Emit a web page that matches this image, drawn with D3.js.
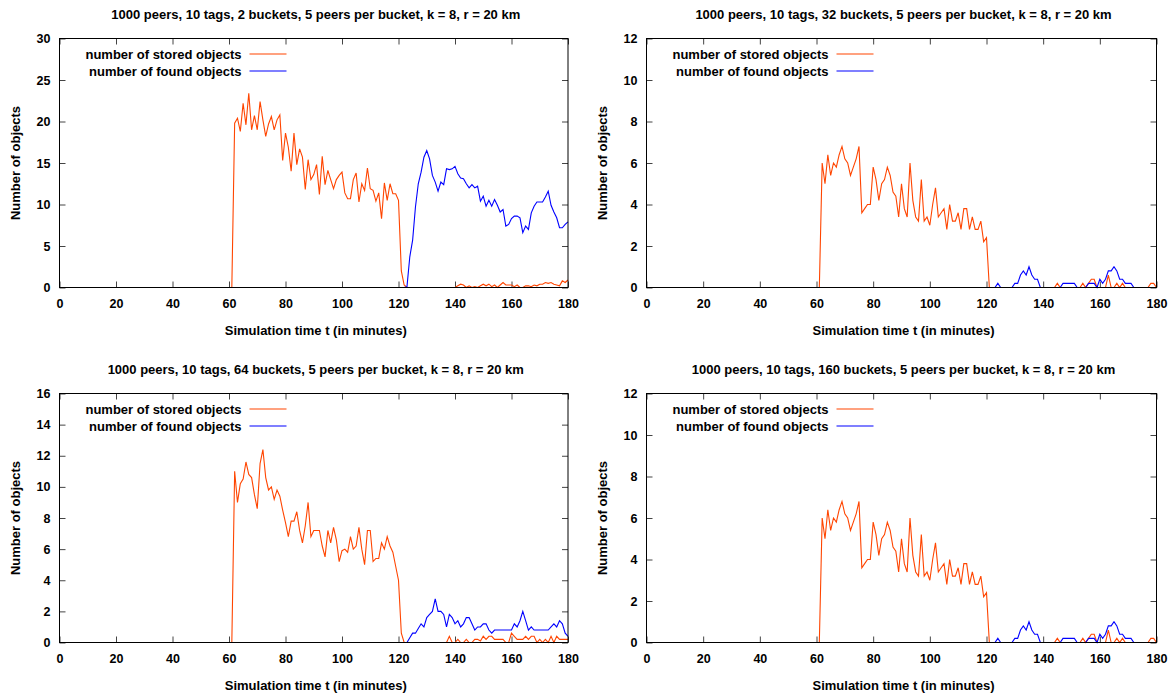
<!DOCTYPE html>
<html><head><meta charset="utf-8">
<script src="https://cdn.jsdelivr.net/npm/d3@7"></script>
<style>
body{margin:0;background:#fff}
svg{display:block}
text{font-family:"Liberation Sans",Arial,Helvetica,sans-serif;font-weight:bold;fill:#000}
</style>
</head><body>
<svg id="chart" width="1175" height="696"></svg>
<script>
// ---------------- data ----------------
const titles = [
  "1000 peers, 10 tags, 2 buckets, 5 peers per bucket, k = 8, r = 20 km",
  "1000 peers, 10 tags, 32 buckets, 5 peers per bucket, k = 8, r = 20 km",
  "1000 peers, 10 tags, 64 buckets, 5 peers per bucket, k = 8, r = 20 km",
  "1000 peers, 10 tags, 160 buckets, 5 peers per bucket, k = 8, r = 20 km"
];
const seriesNames = ["number of stored objects", "number of found objects"];
const xTicks = [0, 20, 40, 60, 80, 100, 120, 140, 160, 180];
const yTicks2 = [0, 5, 10, 15, 20, 25, 30];
const yTicks32 = [0, 2, 4, 6, 8, 10, 12];
const yTicks64 = [0, 2, 4, 6, 8, 10, 12, 14, 16];
const yTicks160 = [0, 2, 4, 6, 8, 10, 12];

// series values: stored objects from t = 60 min, found objects from t = 120 min (one value per minute);
// both series are 0 from t = 0 up to their first value
const storedStart = 60, foundStart = 120;

const stored2 = [0, 0,
  19.8,20.4,18.8,22.2,19.6,23.4,19.0,20.7,19.0,22.4,
  20.2,18.2,19.7,20.6,19.0,20.2,20.8,15.3,18.6,16.9,
  14.0,18.6,14.8,16.7,15.7,11.8,15.4,13.0,13.6,14.8,
  11.2,15.8,12.4,14.1,13.0,11.9,13.0,13.5,13.9,11.4,
  10.7,10.7,13.0,13.8,10.3,12.5,11.7,14.4,11.9,11.7,
  10.4,11.4,8.3,12.6,10.5,12.5,11.3,11.3,10.5,
  2.0,0.3,
  0,0,0,0,0,0,0,0,0,0,0,0,0,0,0,0,0,0,
  0.2,0.4,0.3,0,0.2,0,0.1,0,0.2,0.4,
  0.2,0.4,0.1,0.3,0,0.3,0.6,0.3,0.3,0.3,
  0.1,0.3,0,0,0.2,0.2,0.1,0.3,0.2,0.4,
  0.4,0.6,0.5,0.6,0.4,0.3,0.2,0.8,0.6,0.9];
const found2 = [0,0,0,0.1,
  3.7,5.7,9.7,12.5,13.9,15.7,16.5,15.5,13.5,12.7,
  11.6,12.7,12.4,14.3,14.2,14.3,14.6,13.7,13.2,13.1,
  12.5,12.0,12.4,12.0,12.2,10.4,11.0,9.8,10.5,9.8,
  10.6,9.9,9.1,9.4,7.4,7.6,8.3,8.6,8.6,8.4,
  6.6,7.4,7.0,9.0,9.8,10.3,10.3,10.3,10.9,11.6,
  9.9,9.1,8.4,7.2,7.2,7.6,7.9];

const stored32 = [0, 0,
  6.0,5.0,6.4,5.4,6.0,5.8,6.4,6.8,6.2,6.0,5.4,5.8,6.2,6.8,
  3.6,3.8,4.0,4.0,5.8,5.2,4.2,5.0,5.2,5.8,5.4,4.6,4.4,3.4,
  5.0,3.8,3.4,6.0,4.2,3.4,3.2,5.2,3.2,3.4,3.0,4.0,4.8,3.4,
  3.6,3.8,2.8,4.0,3.2,3.2,3.6,2.8,3.8,3.8,2.8,3.4,2.8,2.8,3.2,2.2,2.4,
  0,
  0,0,0,0,0,0,0,0,0,0,0,0,0,0,0,0,0,0,0,0,0,0,0,
  0.2,0,0,0,0,0,0,0,0,
  0.2,0,0.2,0.4,0.4,0,0,0,0,0.6,0,0,0.2,0,0.2,
  0,0,0,0,0,0,0,0,0,
  0.2,0.2,0];
const found32 = [0,0,0,0,0.2,0,0,0,0,0,
  0.2,0.2,0.6,0.8,0.6,1.0,0.6,0.4,0.4,0,
  0,0,0,0,0,0,0,
  0.2,0.2,0.2,0.2,0.2,0,
  0,0,0,
  0.2,0.2,0.2,0,0.4,0.2,0.4,0.8,0.8,1.0,0.8,0.4,0.4,0.2,0.2,0.2,0,
  0,0,0,0,0,0,0,0];

const stored64 = [0, 0,
  11.0,9.0,10.2,10.5,11.6,10.8,10.6,9.5,8.6,11.5,
  12.4,10.6,9.8,10.0,9.2,9.8,9.4,8.5,7.7,6.8,
  7.8,7.8,8.4,7.2,6.4,7.5,9.0,6.8,7.2,7.2,
  7.2,6.2,5.5,7.2,6.4,7.4,6.6,5.2,5.9,6.0,
  5.8,6.8,6.0,6.2,7.4,6.0,5.0,7.2,7.2,5.2,
  5.4,5.4,6.4,6.0,6.8,6.2,5.8,4.9,4.0,
  0.6,0,
  0,0,0,0,0,0,0,0,0,0,0,0,0,0,0,
  0.4,0,0,0.2,0,0,0.2,0,0,
  0.2,0.2,0.1,0.4,0.2,0.4,0.4,0.2,0.2,0.2,
  0.2,0,0,0.6,0.4,0.2,0.2,0.2,0.4,0.2,
  0.4,0.4,0,0.2,0,0.2,0,0.4,0,0.4,
  0.2,0.2,0.2,0.2];
const found64 = [0,0,0,0,
  0.3,0.6,0.6,0.9,1.2,1.0,1.6,1.8,2.0,2.8,
  2.0,2.0,1.8,1.0,1.8,1.6,1.2,1.4,1.0,1.2,
  1.6,1.6,1.2,0.8,1.0,1.0,1.2,1.2,0.8,0.6,
  0.8,0.8,0.8,0.8,0.8,0.8,0.8,1.2,1.0,1.4,
  2.0,1.4,0.8,1.0,0.8,0.8,0.8,0.8,0.8,0.8,
  1.0,1.2,1.0,1.4,1.2,0.6,0.4];

// the 160-bucket run shows the same curves as the 32-bucket run
const stored160 = stored32.slice();
const found160 = found32.slice();

// ---------------- drawing ----------------
const panels = [
  {title: titles[0], yTicks: yTicks2,   stored: stored2,   found: found2,   left: 59.5,  right: 568, top: 38.5,  bottom: 287.5},
  {title: titles[1], yTicks: yTicks32,  stored: stored32,  found: found32,  left: 646.5, right: 1156.5, top: 38.5,  bottom: 287.5},
  {title: titles[2], yTicks: yTicks64,  stored: stored64,  found: found64,  left: 59.5,  right: 568, top: 393.5, bottom: 642.5},
  {title: titles[3], yTicks: yTicks160, stored: stored160, found: found160, left: 646.5, right: 1156.5, top: 393.5, bottom: 642.5}
];
const colors = ["#ff4500", "#0000ff"];
const svg = d3.select("#chart");

function toPoints(start, values) {
  return [[0, 0]].concat(values.map((v, i) => [start + i, v]));
}

panels.forEach(p => {
  const g = svg.append("g");
  const x = d3.scaleLinear().domain([0, 180]).range([p.left, p.right]);
  const y = d3.scaleLinear().domain([0, d3.max(p.yTicks)]).range([p.bottom, p.top]);
  const W = p.right - p.left, H = p.bottom - p.top;

  // axes (ticks pointing inwards, mirrored)
  const axB = g.append("g").attr("transform", `translate(0,${p.bottom})`)
    .call(d3.axisBottom(x).tickValues(xTicks).tickSize(-6).tickPadding(12).tickFormat(d3.format("d")));
  const axT = g.append("g").attr("transform", `translate(0,${p.top})`)
    .call(d3.axisTop(x).tickValues(xTicks).tickSize(-6).tickFormat(""));
  const axL = g.append("g").attr("transform", `translate(${p.left},0)`)
    .call(d3.axisLeft(y).tickValues(p.yTicks).tickSize(-6).tickPadding(9).tickFormat(d3.format("d")));
  const axR = g.append("g").attr("transform", `translate(${p.right},0)`)
    .call(d3.axisRight(y).tickValues(p.yTicks).tickSize(-6).tickFormat(""));
  [axB, axT, axL, axR].forEach(a => {
    a.select(".domain").remove();
    a.selectAll(".tick line").attr("stroke", "#444");
    a.selectAll("text").attr("font-size", 12.5).attr("font-family", null).attr("fill", "#000");
  });

  // lines
  const line = d3.line().x(d => x(d[0])).y(d => y(d[1]));
  g.append("path").datum(toPoints(storedStart, p.stored))
    .attr("fill", "none").attr("stroke", colors[0]).attr("stroke-width", 1.1).attr("d", line);
  g.append("path").datum(toPoints(foundStart, p.found))
    .attr("fill", "none").attr("stroke", colors[1]).attr("stroke-width", 1.1).attr("d", line);

  // border
  g.append("rect").attr("x", p.left).attr("y", p.top).attr("width", W).attr("height", H)
    .attr("fill", "none").attr("stroke", "#000").attr("stroke-width", 1);

  // titles and labels
  g.append("text").attr("x", (p.left + p.right) / 2 + 2).attr("y", p.top - 20)
    .attr("text-anchor", "middle").attr("font-size", 13).text(p.title);
  g.append("text").attr("x", (p.left + p.right) / 2 + 2).attr("y", p.bottom + 47)
    .attr("text-anchor", "middle").attr("font-size", 13).text("Simulation time t (in minutes)");
  g.append("text").attr("transform", `translate(${p.left - 40},${(p.top + p.bottom) / 2}) rotate(-90)`)
    .attr("text-anchor", "middle").attr("font-size", 13).text("Number of objects");

  // legend
  seriesNames.forEach((name, i) => {
    const ly = Math.round(p.top + 15) + i * 17;
    g.append("text").attr("x", p.left + 182).attr("y", ly + 4.5)
      .attr("text-anchor", "end").attr("font-size", 13).text(name);
    g.append("line").attr("x1", p.left + 190).attr("x2", p.left + 227)
      .attr("y1", ly).attr("y2", ly).attr("stroke", colors[i]).attr("stroke-width", 1.2);
  });
});
</script>
</body></html>
